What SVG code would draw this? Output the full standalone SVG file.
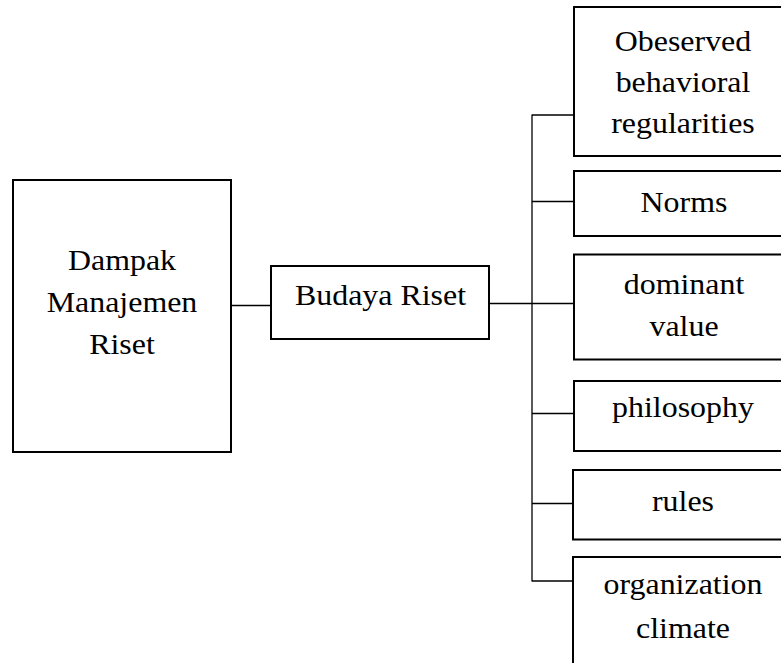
<svg xmlns="http://www.w3.org/2000/svg" width="781" height="663" viewBox="0 0 781 663">
  <style>
    .box { fill: #ffffff; stroke: #000000; stroke-width: 2; }
    .link { stroke: #000000; stroke-width: 1.3; fill: none; }
    .label { font-family: "Liberation Serif", "Times New Roman", serif; font-size: 28.5px; fill: #000000; text-anchor: middle; }
  </style>
  <rect width="781" height="663" fill="#ffffff"/>

  <!-- connectors -->
  <g id="connectors">
    <line class="link" x1="231" y1="305.5" x2="271" y2="305.5"/>
    <line class="link" x1="489" y1="303.5" x2="532" y2="303.5"/>
    <line class="link" x1="532" y1="114.5" x2="532" y2="581.5"/>
    <line class="link" x1="532" y1="115" x2="574" y2="115"/>
    <line class="link" x1="532" y1="201.5" x2="574" y2="201.5"/>
    <line class="link" x1="532" y1="303.5" x2="574" y2="303.5"/>
    <line class="link" x1="532" y1="413.5" x2="574" y2="413.5"/>
    <line class="link" x1="532" y1="503.5" x2="573" y2="503.5"/>
    <line class="link" x1="532" y1="581" x2="573" y2="581"/>
  </g>

  <g id="dampak">
    <rect class="box" x="13" y="180" width="218" height="272"/>
    <text class="label" transform="translate(122 270) scale(1.12 1)">Dampak</text>
    <text class="label" transform="translate(122 312) scale(1.12 1)">Manajemen</text>
    <text class="label" transform="translate(122 354) scale(1.12 1)">Riset</text>
  </g>

  <g id="budaya">
    <rect class="box" x="271" y="266" width="218" height="73"/>
    <text class="label" transform="translate(380.5 305) scale(1.12 1)">Budaya Riset</text>
  </g>

  <g id="observed">
    <rect class="box" x="574" y="7" width="230" height="149"/>
    <text class="label" transform="translate(683 51) scale(1.12 1)">Obeserved</text>
    <text class="label" transform="translate(683 92) scale(1.12 1)">behavioral</text>
    <text class="label" transform="translate(683 133) scale(1.12 1)">regularities</text>
  </g>

  <g id="norms">
    <rect class="box" x="574" y="171" width="230" height="65"/>
    <text class="label" transform="translate(684 211.5) scale(1.12 1)">Norms</text>
  </g>

  <g id="dominant">
    <rect class="box" x="574" y="254.5" width="230" height="105"/>
    <text class="label" transform="translate(684 293.5) scale(1.12 1)">dominant</text>
    <text class="label" transform="translate(684 336) scale(1.12 1)">value</text>
  </g>

  <g id="philosophy">
    <rect class="box" x="574" y="381" width="230" height="70"/>
    <text class="label" transform="translate(683 416.5) scale(1.12 1)">philosophy</text>
  </g>

  <g id="rules">
    <rect class="box" x="573" y="470" width="231" height="69.5"/>
    <text class="label" transform="translate(683 510.5) scale(1.12 1)">rules</text>
  </g>

  <g id="climate">
    <rect class="box" x="573" y="557" width="231" height="140"/>
    <text class="label" transform="translate(683 594) scale(1.12 1)">organization</text>
    <text class="label" transform="translate(683 638) scale(1.12 1)">climate</text>
  </g>
</svg>
